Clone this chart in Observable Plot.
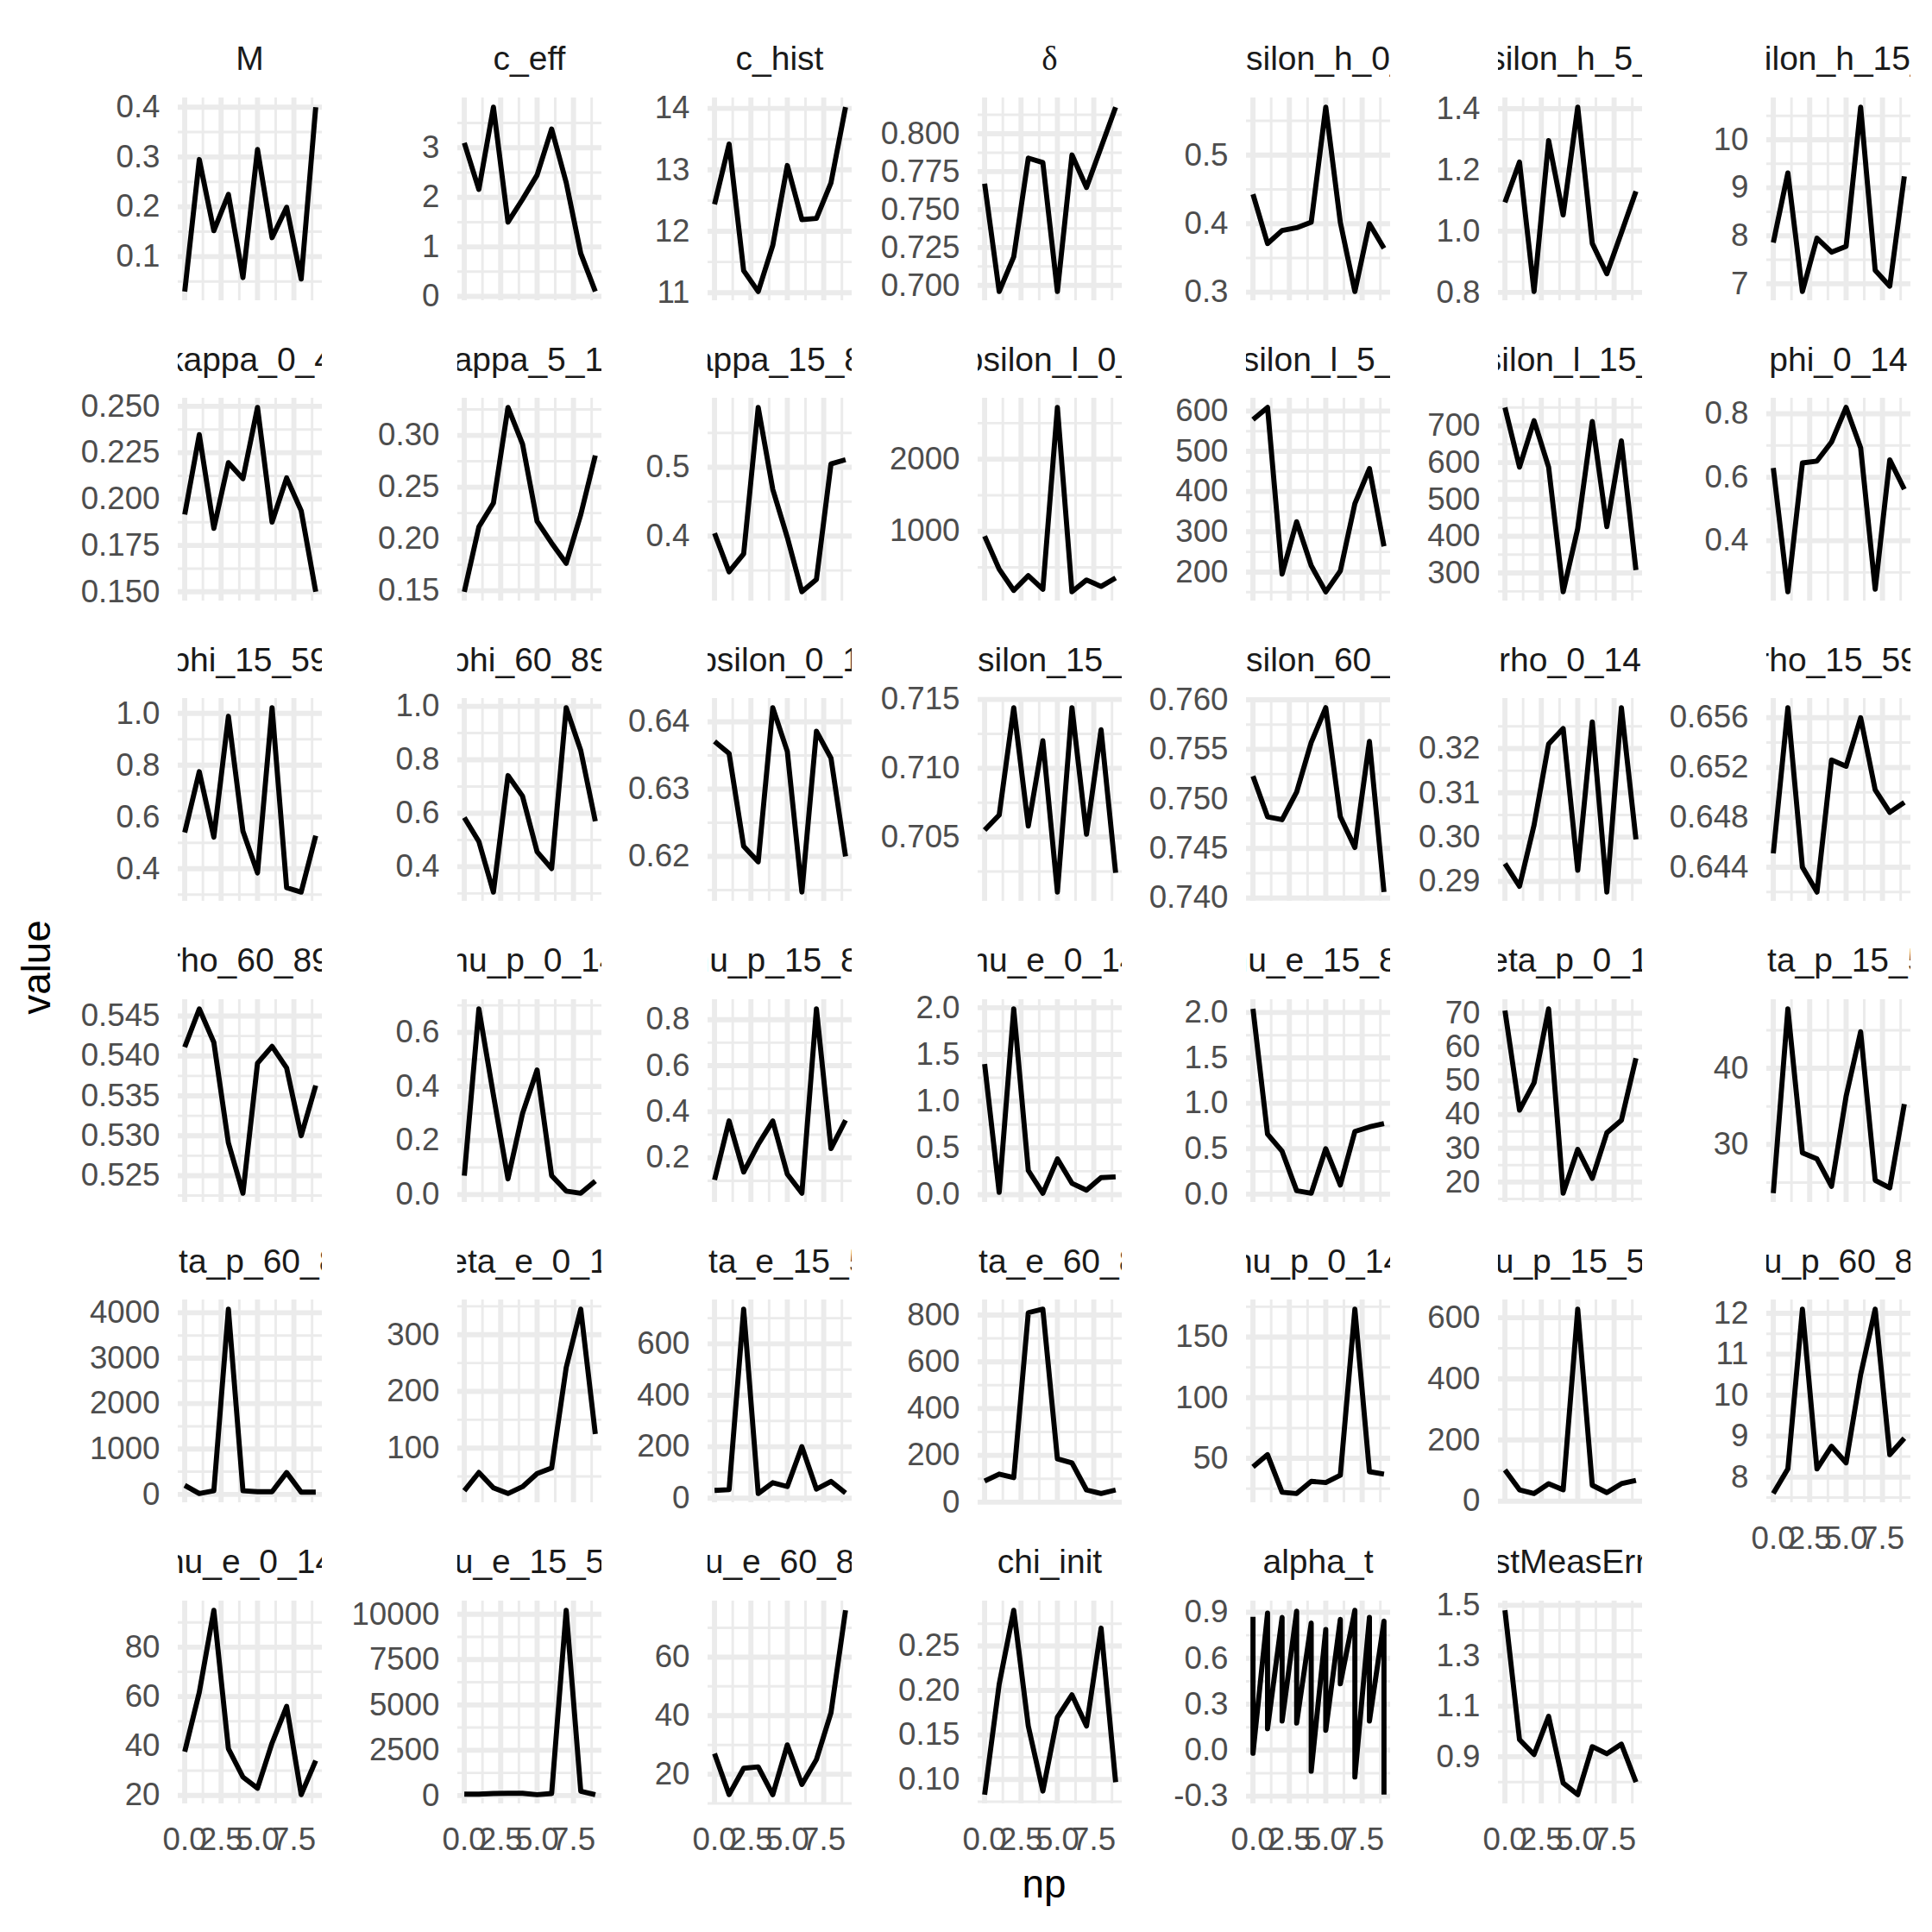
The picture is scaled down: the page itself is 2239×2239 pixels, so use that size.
<!DOCTYPE html>
<html><head><meta charset="utf-8">
<script src="https://cdn.jsdelivr.net/npm/d3@7"></script>
<script src="https://cdn.jsdelivr.net/npm/@observablehq/plot@0.6"></script>
<style>
body{margin:0;background:#fff;}
#chart{position:relative;width:2239px;height:2239px;background:#fff;overflow:hidden;font-family:"Liberation Sans",Arial,sans-serif;}
.strip{position:absolute;display:flex;justify-content:center;align-items:center;overflow:hidden;white-space:nowrap;font-size:39px;line-height:1;color:#1A1A1A;}
.axtitle{position:absolute;font-size:45.8px;line-height:1;color:#000;white-space:nowrap;}
</style></head><body><div id="chart"></div>
<script>
const np = [0,1,2,3,4,5,6,7,8,9];
const npAlpha = [0,0,1,1,2,2,3,3,4,4,5,5,6,6,7,7,8,8,9,9];
const panelNames = ["M","c_eff","c_hist","δ","epsilon_h_0_4","epsilon_h_5_14","epsilon_h_15_89",
  "kappa_0_4","kappa_5_14","kappa_15_89","epsilon_l_0_4","epsilon_l_5_14","epsilon_l_15_89","phi_0_14",
  "phi_15_59","phi_60_89","upsilon_0_14","upsilon_15_59","upsilon_60_89","rho_0_14","rho_15_59",
  "rho_60_89","mu_p_0_14","mu_p_15_89","mu_e_0_14","mu_e_15_89","zeta_p_0_14","zeta_p_15_59",
  "zeta_p_60_89","zeta_e_0_14","zeta_e_15_59","zeta_e_60_89","nu_p_0_14","nu_p_15_59","nu_p_60_89",
  "nu_e_0_14","nu_e_15_59","nu_e_60_89","chi_init","alpha_t","stMeasErr"];

const M = [0.03,0.295,0.152,0.225,0.058,0.315,0.138,0.199,0.055,0.40];
const c_eff = [3.1,2.16,3.82,1.5,1.96,2.45,3.38,2.3,0.87,0.1];
const c_hist = [12.44,13.42,11.36,11.02,11.77,13.07,12.19,12.21,12.79,14.02];
const delta = [0.767,0.696,0.7188,0.7839,0.781,0.696,0.786,0.7646,0.791,0.8175];
const epsilon_h_0_4 = [0.443,0.371,0.39,0.394,0.402,0.57,0.402,0.301,0.40,0.364];
const epsilon_h_5_14 = [1.094,1.226,0.803,1.296,1.053,1.405,0.96,0.861,0.995,1.13];
const epsilon_h_15_89 = [7.86,9.31,6.84,7.95,7.66,7.78,10.68,7.28,6.95,9.24];
const kappa_0_4 = [0.1917,0.2347,0.1842,0.2196,0.211,0.2494,0.1876,0.2114,0.1937,0.150];
const kappa_5_14 = [0.149,0.2117,0.2346,0.327,0.2917,0.2171,0.196,0.1765,0.2235,0.2806];
const kappa_15_89 = [0.404,0.348,0.374,0.587,0.468,0.398,0.319,0.337,0.505,0.511];
const epsilon_l_0_4 = [933,475,180,384,196,2718,161,325,235,353];
const epsilon_l_5_14 = [579,609,195,325,216,151,203,370,457,264];
const epsilon_l_15_89 = [750,588,714,588,249,421,712,426,659,308];
const phi_0_14 = [0.629,0.239,0.645,0.651,0.711,0.82,0.693,0.247,0.655,0.562];
const phi_15_59 = [0.54,0.775,0.522,0.989,0.545,0.384,1.022,0.327,0.31,0.528];
const phi_60_89 = [0.584,0.494,0.305,0.741,0.664,0.456,0.393,0.995,0.835,0.57];
const upsilon_0_14 = [0.6371,0.6353,0.6215,0.6192,0.6421,0.6356,0.6147,0.6386,0.6346,0.620];
const upsilon_15_59 = [0.7055,0.7066,0.7144,0.7058,0.712,0.701,0.7144,0.7052,0.7128,0.7024];
const upsilon_60_89 = [0.7523,0.7482,0.7479,0.7507,0.7557,0.7592,0.7482,0.7451,0.7558,0.7406];
const rho_0_14 = [0.294,0.2889,0.3027,0.321,0.3245,0.2925,0.326,0.2876,0.3292,0.2995];
const rho_15_59 = [0.6451,0.6568,0.644,0.642,0.6526,0.6521,0.656,0.6502,0.6484,0.6492];
const rho_60_89 = [0.5411,0.5459,0.5417,0.5291,0.5228,0.5391,0.5412,0.5385,0.530,0.5363];
const mu_p_0_14 = [0.07,0.687,0.368,0.058,0.3,0.461,0.07,0.013,0.005,0.05];
const mu_p_15_89 = [0.104,0.36,0.138,0.258,0.36,0.129,0.046,0.847,0.24,0.363];
const mu_e_0_14 = [1.397,0.024,1.988,0.258,0.015,0.382,0.121,0.048,0.182,0.19];
const mu_e_15_89 = [2.04,0.66,0.472,0.038,0.01,0.5,0.1,0.69,0.74,0.776];
const zeta_p_0_14 = [70.8,41.3,49.4,71.3,16.7,29.7,21.1,34.6,38.3,56.7];
const zeta_p_15_59 = [23.6,47.8,28.9,28.1,24.5,36.3,44.8,25.3,24.3,35.3];
const zeta_p_60_89 = [200,20,80,4080,80,60,60,480,50,50];
const zeta_e_0_14 = [25,57,30,20,32,55,65,242,345,125];
const zeta_e_15_59 = [30,33,735,18,60,45,200,35,65,20];
const zeta_e_60_89 = [90,120,105,810,825,185,168,52,37,52];
const nu_p_0_14 = [43,53,22,21,31,30,36,173,39,37];
const nu_p_15_59 = [102,37,25,57,37,628,52,28,57,68];
const nu_p_60_89 = [7.6,8.2,12.1,8.2,8.75,8.35,10.5,12.1,8.55,8.95];
const nu_e_0_14 = [37.7,61.7,94.9,38.9,27.4,22.9,41.2,56,20.3,34.1];
const nu_e_15_59 = [80,80,110,125,125,50,110,10220,240,50];
const nu_e_60_89 = [27,13,22,22.5,13,30,16.5,25,41,76];
const chi_init = [0.083,0.207,0.29,0.16,0.087,0.17,0.195,0.16,0.27,0.097];
const alpha_t = [0.87,-0.02,0.894,0.14,0.867,0.19,0.907,0.177,0.83,-0.137,0.787,0.13,0.854,0.433,0.913,-0.175,0.867,0.19,0.843,-0.29];
const stMeasErr = [1.48,0.968,0.909,1.06,0.796,0.75,0.94,0.912,0.95,0.80];

const seriesValues = [M,c_eff,c_hist,delta,epsilon_h_0_4,epsilon_h_5_14,epsilon_h_15_89,
  kappa_0_4,kappa_5_14,kappa_15_89,epsilon_l_0_4,epsilon_l_5_14,epsilon_l_15_89,phi_0_14,
  phi_15_59,phi_60_89,upsilon_0_14,upsilon_15_59,upsilon_60_89,rho_0_14,rho_15_59,
  rho_60_89,mu_p_0_14,mu_p_15_89,mu_e_0_14,mu_e_15_89,zeta_p_0_14,zeta_p_15_59,
  zeta_p_60_89,zeta_e_0_14,zeta_e_15_59,zeta_e_60_89,nu_p_0_14,nu_p_15_59,nu_p_60_89,
  nu_e_0_14,nu_e_15_59,nu_e_60_89,chi_init,alpha_t,stMeasErr];

const yTickLabels = [
  ["0.1","0.2","0.3","0.4"],["0","1","2","3"],["11","12","13","14"],["0.700","0.725","0.750","0.775","0.800"],
  ["0.3","0.4","0.5"],["0.8","1.0","1.2","1.4"],["7","8","9","10"],
  ["0.150","0.175","0.200","0.225","0.250"],["0.15","0.20","0.25","0.30"],["0.4","0.5"],["1000","2000"],
  ["200","300","400","500","600"],["300","400","500","600","700"],["0.4","0.6","0.8"],
  ["0.4","0.6","0.8","1.0"],["0.4","0.6","0.8","1.0"],["0.62","0.63","0.64"],["0.705","0.710","0.715"],
  ["0.740","0.745","0.750","0.755","0.760"],["0.29","0.30","0.31","0.32"],["0.644","0.648","0.652","0.656"],
  ["0.525","0.530","0.535","0.540","0.545"],["0.0","0.2","0.4","0.6"],["0.2","0.4","0.6","0.8"],
  ["0.0","0.5","1.0","1.5","2.0"],["0.0","0.5","1.0","1.5","2.0"],["20","30","40","50","60","70"],["30","40"],
  ["0","1000","2000","3000","4000"],["100","200","300"],["0","200","400","600"],["0","200","400","600","800"],
  ["50","100","150"],["0","200","400","600"],["8","9","10","11","12"],
  ["20","40","60","80"],["0","2500","5000","7500","10000"],["20","40","60"],["0.10","0.15","0.20","0.25"],
  ["-0.3","0.0","0.3","0.6","0.9"],["0.9","1.1","1.3","1.5"]];
const xTickLabels = ["0.0","2.5","5.0","7.5"];

const PW = 167, PH = 235, STRIP = 89.6;
const colLeft = [206,530,820,1133,1444,1736,2047];
const rowTop = r => 112.6 + 348.4 * r;
const GRID = "#EBEBEB";
const chart = document.getElementById("chart");

function minorBreaks(majors, lo, hi) {
  const s = majors[1] - majors[0], out = [];
  for (let v = majors[0] - s / 2; v <= hi + 1e-12; v += s) if (v >= lo) out.push(v);
  return out;
}

const xDomain = [d3.min(np) - 0.05 * (d3.max(np) - d3.min(np)), d3.max(np) + 0.05 * (d3.max(np) - d3.min(np))];
const xMajor = xTickLabels.map(Number);
const xFmt = new Map(xMajor.map((v, k) => [v, xTickLabels[k]]));
const xMinor = minorBreaks(xMajor, xDomain[0], xDomain[1]);

panelNames.forEach((name, i) => {
  const r = Math.floor(i / 7), c = i % 7;
  const vals = seriesValues[i];
  const xs = vals.length === np.length ? np : npAlpha;
  const rows = vals.map((v, k) => ({np: xs[k], value: v}));
  const [lo, hi] = d3.extent(vals);
  const pad = 0.05 * (hi - lo);
  const yDomain = [lo - pad, hi + pad];
  const labels = yTickLabels[i];
  const yMajor = labels.map(Number);
  const yFmt = new Map(yMajor.map((v, k) => [v, labels[k]]));
  const yMinor = minorBreaks(yMajor, yDomain[0], yDomain[1]);
  const showX = i + 7 >= panelNames.length;
  const ML = 150, MB = showX ? 80 : 0;
  const marks = [
    Plot.ruleX(xMinor, {stroke: GRID, strokeWidth: 2.95}),
    Plot.ruleY(yMinor, {stroke: GRID, strokeWidth: 2.95}),
    Plot.ruleX(xMajor, {stroke: GRID, strokeWidth: 5.9}),
    Plot.ruleY(yMajor, {stroke: GRID, strokeWidth: 5.9}),
    Plot.line(rows, {x: "np", y: "value", stroke: "#000", strokeWidth: 5.9, strokeLinecap: "butt", strokeLinejoin: "round"}),
    Plot.axisY(yMajor, {tickSize: 0, tickPadding: 21, tickFormat: d => yFmt.get(d), label: null})
  ];
  if (showX) marks.push(Plot.axisX(xMajor, {tickSize: 0, tickPadding: 27, tickFormat: d => xFmt.get(d), label: null}));
  const plot = Plot.plot({
    width: ML + PW, height: PH + MB,
    marginLeft: ML, marginRight: 0, marginTop: 0, marginBottom: MB,
    x: {domain: xDomain, axis: showX ? undefined : null, label: null},
    y: {domain: yDomain, label: null},
    style: {fontFamily: '"Liberation Sans", Arial, sans-serif', fontSize: "36.7px", color: "#4D4D4D", background: "transparent", overflow: "visible"},
    marks
  });
  plot.style.position = "absolute";
  plot.style.left = (colLeft[c] - ML) + "px";
  plot.style.top = rowTop(r) + "px";
  plot.style.maxWidth = "none";
  chart.appendChild(plot);

  const strip = document.createElement("div");
  strip.className = "strip";
  strip.style.left = colLeft[c] + "px";
  strip.style.top = (rowTop(r) - STRIP) + "px";
  strip.style.width = PW + "px";
  strip.style.height = STRIP + "px";
  const span = document.createElement("span");
  span.textContent = name;
  if (name === "δ") span.style.fontFamily = '"Liberation Serif", serif';
  strip.appendChild(span);
  chart.appendChild(strip);
});

const yTitle = document.createElement("div");
yTitle.className = "axtitle";
yTitle.textContent = "value";
yTitle.style.left = "43px";
yTitle.style.top = "1121px";
yTitle.style.transform = "translate(-50%,-50%) rotate(-90deg)";
chart.appendChild(yTitle);

const xTitle = document.createElement("div");
xTitle.className = "axtitle";
xTitle.textContent = "np";
xTitle.style.left = "1210px";
xTitle.style.top = "2184px";
xTitle.style.transform = "translate(-50%,-50%)";
chart.appendChild(xTitle);
</script></body></html>
